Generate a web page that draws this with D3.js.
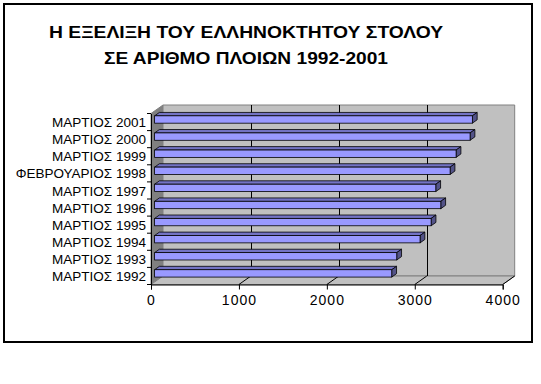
<!DOCTYPE html>
<html><head><meta charset="utf-8">
<script src="https://cdn.jsdelivr.net/npm/d3@7"></script>
<style>html,body{margin:0;padding:0;background:#fff;}svg{display:block;}</style>
</head><body>
<svg id="c" width="541" height="384"></svg>
<script>
const titleLines = ["Η ΕΞΕΛΙΞΗ ΤΟΥ ΕΛΛΗΝΟΚΤΗΤΟΥ ΣΤΟΛΟΥ", "ΣΕ ΑΡΙΘΜΟ ΠΛΟΙΩΝ 1992-2001"];
const categories = ["ΜΑΡΤΙΟΣ 2001","ΜΑΡΤΙΟΣ 2000","ΜΑΡΤΙΟΣ 1999","ΦΕΒΡΟΥΑΡΙΟΣ 1998","ΜΑΡΤΙΟΣ 1997","ΜΑΡΤΙΟΣ 1996","ΜΑΡΤΙΟΣ 1995","ΜΑΡΤΙΟΣ 1994","ΜΑΡΤΙΟΣ 1993","ΜΑΡΤΙΟΣ 1992"];
const values = [3614, 3588, 3429, 3361, 3198, 3255, 3145, 3019, 2754, 2697];
const tickValues = [0, 1000, 2000, 3000, 4000];

(function(){
const svg = d3.select("#c");
const font = "'Liberation Sans', Arial, sans-serif";

// chart border
svg.append("rect").attr("x",4).attr("y",4).attr("width",528).attr("height",338)
  .attr("fill","#fff").attr("stroke","#000").attr("stroke-width",2);

// title
const tl = [{t:titleLines[0], y:37.8, w:394}, {t:titleLines[1], y:63.6, w:284}];
svg.selectAll("text.title").data(tl).join("text").attr("class","title")
  .attr("x",246).attr("y",d=>d.y).attr("text-anchor","middle")
  .attr("font-family",font).attr("font-weight","bold").attr("font-size",16.5)
  .attr("textLength",d=>d.w).attr("lengthAdjust","spacingAndGlyphs")
  .text(d=>d.t);

// 3D geometry
const DX = 12, DY = -8.5;
const pTop = 113.5, pBottom = 284.5;
const x = d3.scaleLinear().domain([0, 4000]).range([151, 502.7]);
const y = d3.scaleBand().domain(categories).range([pTop, pBottom]).paddingInner(0.57).paddingOuter(0.285);
const yb = d3.scaleBand().domain(categories).range([pTop, pBottom]).padding(0);

const g = svg.append("g");
const X0 = x(0), X1 = x(4000);
// left wall
g.append("path").attr("d", d3.line()([[X0,pTop],[X0+DX,pTop+DY],[X0+DX,pBottom+DY],[X0,pBottom]]) + "Z")
  .attr("fill","#808080").attr("stroke","#808080").attr("stroke-width",1);
// back wall
g.append("path").attr("d", d3.line()([[X0+DX,pTop+DY],[X1+DX,pTop+DY],[X1+DX,pBottom+DY],[X0+DX,pBottom+DY]]) + "Z")
  .attr("fill","#c0c0c0").attr("stroke","#808080").attr("stroke-width",1);
// floor
g.append("path").attr("d", d3.line()([[X0,pBottom],[X0+DX,pBottom+DY],[X1+DX,pBottom+DY],[X1,pBottom]]) + "Z")
  .attr("fill","#c0c0c0").attr("stroke","#808080").attr("stroke-width",1);

// gridlines
const inner = tickValues.filter(v => v > 0 && v < 4000);
g.selectAll("line.gw").data(inner).join("line").attr("class","gw")
  .attr("x1",d=>Math.round(x(d)+DX)+0.5).attr("x2",d=>Math.round(x(d)+DX)+0.5)
  .attr("y1",pTop+DY).attr("y2",pBottom+DY).attr("stroke","#000").attr("stroke-width",1);
g.selectAll("line.gf").data(tickValues.filter(v=>v>0)).join("line").attr("class","gf")
  .attr("x1",d=>x(d)).attr("y1",pBottom).attr("x2",d=>x(d)+DX).attr("y2",pBottom+DY)
  .attr("stroke","#000").attr("stroke-width",1);

// bars
const f1 = 0.3, f2 = 0.7;
const o1 = [DX*f1, DY*f1], o2 = [DX*f2, DY*f2];
const data = categories.map((c,i)=>({c, v: values[i]}));
const bars = g.selectAll("g.bar").data(data).join("g").attr("class","bar");
bars.append("path").attr("d", d => {
  const y0 = y(d.c), xa = x(0), xb = x(d.v);
  return d3.line()([[xa+o1[0],y0+o1[1]],[xb+o1[0],y0+o1[1]],[xb+o2[0],y0+o2[1]],[xa+o2[0],y0+o2[1]]])+"Z";
}).attr("fill","#7373c4").attr("stroke","#000").attr("stroke-width",0.8).attr("stroke-linejoin","round");
bars.append("path").attr("d", d => {
  const y0 = y(d.c), y1 = y0 + y.bandwidth(), xb = x(d.v);
  return d3.line()([[xb+o1[0],y0+o1[1]],[xb+o2[0],y0+o2[1]],[xb+o2[0],y1+o2[1]],[xb+o1[0],y1+o1[1]]])+"Z";
}).attr("fill","#535388").attr("stroke","#000").attr("stroke-width",0.8).attr("stroke-linejoin","round");
bars.append("rect")
  .attr("x", x(0)+o1[0]).attr("y", d=>y(d.c)+o1[1])
  .attr("width", d=>x(d.v)-x(0)).attr("height", y.bandwidth())
  .attr("fill","#9999ff").attr("stroke","#000").attr("stroke-width",0.8);

// value axis
const xAxis = d3.axisBottom(x).tickValues(tickValues).tickSize(5).tickPadding(4).tickFormat(d3.format("d"));
const ax = svg.append("g").attr("transform",`translate(0,${pBottom})`).call(xAxis);
ax.select(".domain").attr("stroke","#000");
ax.selectAll("text").attr("font-family",font).attr("font-size",14).attr("letter-spacing","1px").attr("fill","#000")
  .attr("dy","0.85em");

// category axis
const yAxis = d3.axisLeft(yb).tickSize(0).tickPadding(5);
const ay = svg.append("g").attr("transform",`translate(${X0},0)`).call(yAxis);
ay.select(".domain").attr("stroke","#000");
ay.selectAll("text").attr("font-family",font).attr("font-size",13.5).attr("fill","#000").attr("dy","0.38em");
const bounds = categories.map(c=>yb(c)).concat([pBottom]);
ay.selectAll("line.bt").data(bounds).join("line").attr("class","bt")
  .attr("x1",-4).attr("x2",0).attr("y1",d=>d).attr("y2",d=>d).attr("stroke","#000");
})();
</script>
</body></html>
